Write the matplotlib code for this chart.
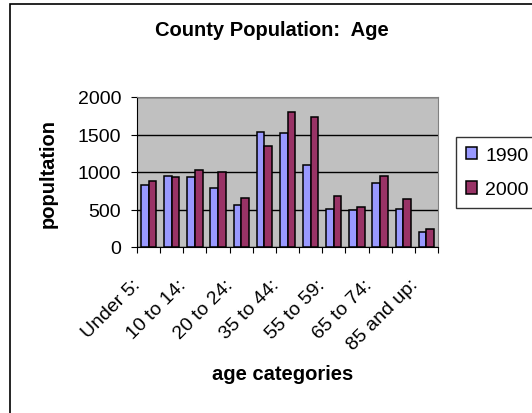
import matplotlib
matplotlib.use("Agg")
import matplotlib.pyplot as plt
from matplotlib.patches import Rectangle
from matplotlib.transforms import ScaledTranslation
import numpy as np

plt.rcParams["font.family"] = ["Liberation Sans", "DejaVu Sans"]

categories = ["Under 5:", "5 to 9:", "10 to 14:", "15 to 19:", "20 to 24:",
              "25 to 34:", "35 to 44:", "45 to 54:", "55 to 59:", "60 to 64:",
              "65 to 74:", "75 to 84:", "85 and up:"]
pop_1990 = [831, 951, 929, 782, 560, 1538, 1516, 1098, 511, 489, 858, 511, 196]
pop_2000 = [880, 929, 1027, 1000, 658, 1342, 1804, 1738, 684, 538, 951, 636, 244]

fig = plt.figure(figsize=(5.32, 4.14), dpi=100)
W, H = 532, 414

# outer chart border (cut off on right/bottom like the reference)
fig.add_artist(Rectangle((10 / W, -0.1), 1.2, 1 - 5 / H + 0.1,
                         transform=fig.transFigure, fill=False,
                         edgecolor="black", linewidth=1.2))

ax = fig.add_axes([137 / W, 1 - 248 / H, (438 - 137) / W, (248 - 98) / H])
ax.set_facecolor("#C0C0C0")

x = np.arange(len(categories))
w = 0.33
ax.bar(x - w / 2, pop_1990, w, color="#9999FF", edgecolor="black", linewidth=1.1, label="1990", zorder=3)
ax.bar(x + w / 2, pop_2000, w, color="#993366", edgecolor="black", linewidth=1.1, label="2000", zorder=3)

ax.set_xlim(-0.5, len(categories) - 0.5)
ax.set_ylim(0, 2000)
ax.set_yticks([0, 500, 1000, 1500, 2000])
ax.yaxis.grid(True, color="black", linewidth=1, zorder=1)

# tick marks between categories, labels on every other category
ax.set_xticks(np.arange(-0.5, len(categories)), minor=False)
ax.set_xticklabels([])
ax.set_xticks(x[::2], minor=True)
ax.set_xticklabels(categories[::2], minor=True, rotation=45, ha="right",
                   rotation_mode="anchor", fontsize=14)
ax.tick_params(axis="x", which="minor", length=0, pad=0)
ax.tick_params(axis="x", which="major", length=4, direction="out")
ax.tick_params(axis="y", length=4, direction="out", labelsize=14, pad=7.5)

shift = ScaledTranslation(-17 / 100, -29 / 100, fig.dpi_scale_trans)
for lbl in ax.get_xticklabels(minor=True):
    lbl.set_transform(lbl.get_transform() + shift)

for s in ["top", "right"]:
    ax.spines[s].set_color("#808080")
for s in ["left", "bottom"]:
    ax.spines[s].set_color("black")

fig.text(272 / W, 1 - 31 / H, "County Population:  Age", ha="center", va="center",
         fontsize=14.5, fontweight="bold")
fig.text(48 / W, 1 - 173 / H, "popultation", ha="center", va="center",
         rotation=90, fontsize=14.5, fontweight="bold")
fig.text(283 / W, 1 - 375 / H, "age categories", ha="center", va="center",
         fontsize=14.5, fontweight="bold")

leg = ax.legend(loc="upper left", bbox_to_anchor=(456 / W, 1 - 138 / H),
                bbox_transform=fig.transFigure, fontsize=14, frameon=True,
                fancybox=False, handlelength=0.6, handleheight=0.6,
                handletextpad=0.4, labelspacing=0.9, borderpad=0.5,
                borderaxespad=0)
leg.get_frame().set_edgecolor("black")
leg.get_frame().set_linewidth(1)

fig.savefig("out.png", dpi=100)
